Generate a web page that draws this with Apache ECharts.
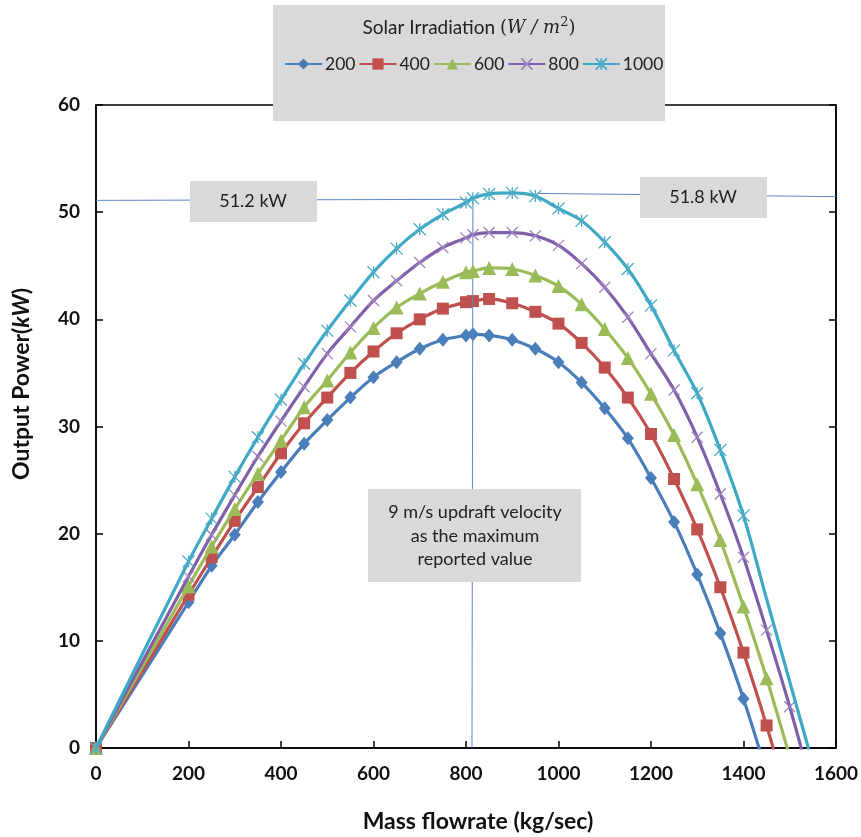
<!DOCTYPE html>
<html><head><meta charset="utf-8">
<script src="https://cdn.jsdelivr.net/npm/echarts@6/dist/echarts.min.js"></script>
<style>html,body{margin:0;padding:0;background:#fff}#c{width:861px;height:837px}</style>
</head><body><div id="c"></div>
<script>
// Mass flowrate (kg/sec) sample points
const massFlow = [0,200,250,300,350,400,450,500,550,600,650,700,750,800,815,850,900,950,1000,1050,1100,1150,1200,1250,1300,1350,1400,1450,1500,1550];
// Output power (kW) per solar irradiation level (W/m2)
const p200  = [0,13.6,17.0,19.9,22.95,25.75,28.4,30.6,32.7,34.6,36.0,37.25,38.1,38.5,38.6,38.5,38.1,37.25,36.0,34.1,31.7,28.9,25.2,21.1,16.2,10.7,4.6,-2.3,null,null];
const p400  = [0,14.3,17.8,21.2,24.35,27.5,30.3,32.7,35.0,37.0,38.7,40.0,41.0,41.6,41.7,41.9,41.5,40.7,39.6,37.8,35.5,32.7,29.3,25.1,20.4,15.0,8.9,2.1,-5.5,null];
const p600  = [0,15.1,18.8,22.3,25.6,28.7,31.8,34.3,36.9,39.2,41.1,42.4,43.5,44.4,44.5,44.8,44.7,44.1,43.1,41.4,39.1,36.4,33.05,29.2,24.6,19.4,13.2,6.5,-0.8,null];
const p800  = [0,16.0,19.9,23.6,27.2,30.5,33.7,36.8,39.3,41.75,43.6,45.3,46.7,47.6,47.9,48.1,48.1,47.8,46.9,45.2,43.0,40.2,36.8,33.4,29.0,23.7,17.8,11.0,3.85,-4.0];
const p1000 = [0,17.4,21.4,25.3,29.0,32.5,35.85,38.95,41.75,44.4,46.6,48.4,49.8,50.9,51.3,51.7,51.8,51.5,50.35,49.2,47.2,44.7,41.3,37.1,33.1,27.8,21.7,13.9,6.2,-1.5];
const seriesNames = ['200','400','600','800','1000'];
const seriesValues = [p200,p400,p600,p800,p1000];
const lastMarkerX = [Infinity,Infinity,Infinity,Infinity,1400];
// Axis ranges
const xRange = [0,1600,200];
const yRange = [0,60,10];
// Annotation lines (data coordinates) and labels
const leftPeakLine  = [[0,51.1],[815,51.2]];
const rightPeakLine = [[953,51.75],[1600,51.45]];
const velocityLine  = [[815,51.2],[813,0]];
const peakLabels = ['51.2 kW','51.8 kW'];
const velocityNote = ['9 m/s updraft velocity','as the maximum','reported value'];

const colors = ['#4a7ebb','#c0504d','#9bbb59','#7f5fa8','#3fa9c5'];
const markerColors = ['#4a7ebb','#c0504d','#9bbb59','#9d86c0','#4bacc6'];
const symbols = ['diamond','rect','triangle','path://M0,0L10,10M10,0L0,10','path://M0,0L10,10M10,0L0,10M5,0L5,10'];
const symbolSizes = [[12,14],12,14,11,12];

const FONT = 'Lato';
const chart = echarts.init(document.getElementById('c'));

const series = seriesNames.map((name,i)=>{
  const isPath = symbols[i].startsWith('path');
  return {
    name, type:'line', smooth:0.3, clip:true, z: 3+i,
    data: massFlow.map((x,k)=> {
      const v = seriesValues[i][k];
      if (v === null) return [x, null];
      if (x > lastMarkerX[i]) return {value:[x,v], symbol:'none'};
      return [x,v];
    }),
    symbol: symbols[i], symbolSize: symbolSizes[i], showSymbol:true,
    lineStyle:{color:colors[i], width:3.2},
    itemStyle: isPath ? {color:markerColors[i], borderColor:markerColors[i], borderWidth:1.3}
                      : {color:markerColors[i], borderWidth:0},
    emphasis:{disabled:true}
  };
});

series.push({
  name:'annot', type:'line', data:[], silent:true,
  markLine:{
    silent:true, symbol:['none','none'], animation:false,
    label:{show:false},
    lineStyle:{color:'#5b86c8', width:1, type:'solid'},
    data:[leftPeakLine, rightPeakLine, velocityLine].map(seg=>[{coord:seg[0]},{coord:seg[1]}])
  }
});

const boxColor = '#d9d9d9';
const tickLabel = {fontFamily:FONT,fontWeight:'bold',fontSize:19,color:'#111',margin:16,formatter:v=>String(v)};
chart.setOption({
  animation:false,
  backgroundColor:'#fff',
  grid:{left:96,right:25,top:105,bottom:89,show:true,borderColor:'#000',borderWidth:1.5,backgroundColor:'transparent'},
  legend:{
    data:seriesNames, left:279, top:50, itemWidth:37, itemHeight:14, itemGap:3,
    textStyle:{fontFamily:FONT,fontSize:17.5,color:'#222',padding:[0,0,0,-2]}, selectedMode:false, z:120
  },
  xAxis:{
    type:'value', min:xRange[0], max:xRange[1], interval:xRange[2],
    axisLine:{show:true,lineStyle:{color:'#000',width:1.5}},
    axisTick:{show:true,inside:true,length:7,lineStyle:{color:'#000',width:1.5}},
    splitLine:{show:false},
    axisLabel:tickLabel
  },
  yAxis:[{
    type:'value', min:yRange[0], max:yRange[1], interval:yRange[2],
    axisLine:{show:true,lineStyle:{color:'#000',width:1.5}},
    axisTick:{show:true,inside:true,length:7,lineStyle:{color:'#000',width:1.5}},
    splitLine:{show:false},
    axisLabel:tickLabel
  },{
    type:'value', position:'right', min:yRange[0], max:yRange[1], interval:yRange[2],
    axisLine:{show:true,lineStyle:{color:'#000',width:1.5}},
    axisTick:{show:true,inside:true,length:7,lineStyle:{color:'#000',width:1.5}},
    splitLine:{show:false}, axisLabel:{show:false}
  }],
  graphic:[
    {type:'rect', z:100, shape:{x:273,y:5,width:392,height:116}, style:{fill:boxColor}},
    {type:'text', z:101, x:469, y:28, style:{
      text:'{a|Solar Irradiation }{b|(}{i|W / m}{s|2}{b|)}',
      align:'center', verticalAlign:'middle',
      rich:{
        a:{fontFamily:FONT,fontSize:19,fill:'#222'},
        b:{fontFamily:'DejaVu Serif',fontSize:18,fill:'#222'},
        i:{fontFamily:'DejaVu Serif',fontStyle:'italic',fontSize:18,fill:'#222'},
        s:{fontFamily:'DejaVu Serif',fontSize:13,fill:'#222',verticalAlign:'top',padding:[0,0,10,0]}
      }}},
    {type:'rect', z:100, shape:{x:190,y:181,width:127,height:41}, style:{fill:boxColor}},
    {type:'text', z:101, x:253, y:201, style:{text:peakLabels[0],align:'center',verticalAlign:'middle',fontFamily:FONT,fontSize:18,fill:'#222'}},
    {type:'rect', z:100, shape:{x:640,y:177,width:127,height:41}, style:{fill:boxColor}},
    {type:'text', z:101, x:703, y:197, style:{text:peakLabels[1],align:'center',verticalAlign:'middle',fontFamily:FONT,fontSize:18,fill:'#222'}},
    {type:'rect', z:100, shape:{x:368,y:489,width:213,height:93}, style:{fill:boxColor}},
    {type:'text', z:101, x:475, y:536, style:{text:velocityNote.join('\n'),align:'center',verticalAlign:'middle',lineHeight:23.5,fontFamily:FONT,fontSize:18,fill:'#222'}},
    {type:'text', z:101, x:22, y:384, rotation:Math.PI/2, style:{
      text:'{a|Output Power(}{i|kW}{a|)}', align:'center', verticalAlign:'middle',
      rich:{a:{fontFamily:FONT,fontWeight:'bold',fontSize:23,fill:'#111'},
            i:{fontFamily:FONT,fontWeight:'bold',fontStyle:'italic',fontSize:23,fill:'#111'}}}},
    {type:'text', z:101, x:478, y:822, style:{text:'Mass flowrate (kg/sec)',align:'center',verticalAlign:'middle',fontFamily:FONT,fontWeight:'bold',fontSize:23,fill:'#111'}}
  ],
  series
});
</script></body></html>
